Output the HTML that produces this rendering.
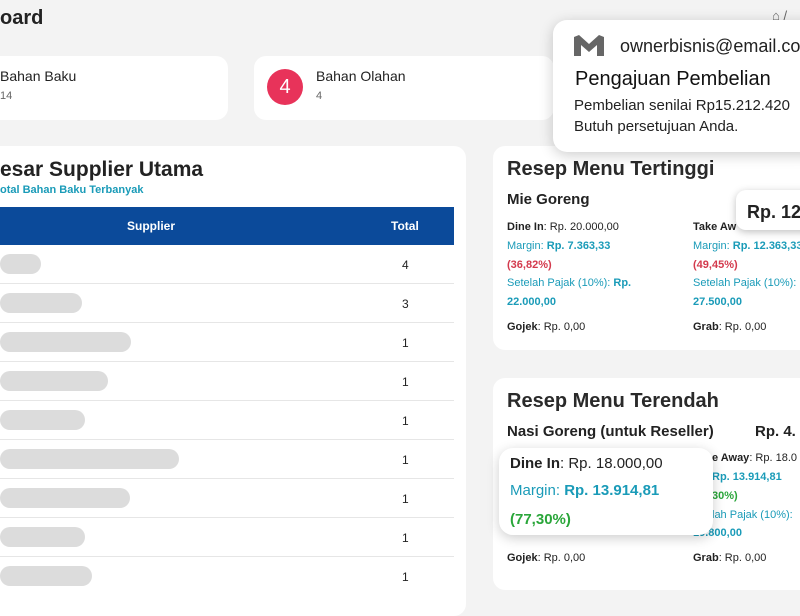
<!DOCTYPE html>
<html><head><meta charset="utf-8"><style>
*{margin:0;padding:0;box-sizing:border-box}
body{width:800px;height:600px;overflow:hidden;background:#f3f3f3;font-family:"Liberation Sans",sans-serif;position:relative;color:#222}
.a{position:absolute;white-space:nowrap}
.card{position:absolute;background:#fff;border-radius:12px}
.b{font-weight:bold}
.t{color:#1a9bb8}
.tb{color:#1a9bb8;font-weight:bold}
.r{color:#d33a4d;font-weight:bold}
.g{color:#2aa63a;font-weight:bold}
.s{font-size:11px}
.pill{position:absolute;left:0;height:20px;background:#dcdcdc;border-radius:10px}
.row{position:absolute;left:0;width:454px;height:39px;border-bottom:1px solid #e6e6e6}
.tot{position:absolute;left:402px;font-size:12px}
</style></head><body>
<div class="a b" style="left:0;top:7px;font-size:20px">oard</div>
<div class="a" style="left:772px;top:8px;font-size:13px;color:#666">⌂ /</div>

<div class="card" style="left:-20px;top:56px;width:248px;height:64px"></div>
<div class="a" style="left:0;top:68px;font-size:14px">Bahan Baku</div>
<div class="a" style="left:0;top:90px;font-size:11px;color:#666">14</div>

<div class="card" style="left:254px;top:56px;width:300px;height:64px"></div>
<div class="a" style="left:267px;top:69px;width:36px;height:36px;border-radius:50%;background:#e8335a;color:#fff;font-size:20px;text-align:center;line-height:36px">4</div>
<div class="a" style="left:316px;top:68px;font-size:14px">Bahan Olahan</div>
<div class="a" style="left:316px;top:90px;font-size:11px;color:#666">4</div>

<div class="card" style="left:-20px;top:146px;width:486px;height:470px"></div>
<div class="a b" style="left:0;top:158px;font-size:21px">esar Supplier Utama</div>
<div class="a b t" style="left:0;top:184px;font-size:11px">otal Bahan Baku Terbanyak</div>
<div class="a" style="left:0;top:207px;width:454px;height:38px;background:#0b4a9a"></div>
<div class="a b" style="left:127px;top:219px;font-size:12px;color:#fff">Supplier</div>
<div class="a b" style="left:391px;top:219px;font-size:12px;color:#fff">Total</div>
<div class="row" style="top:245px"><div class="pill" style="top:9px;width:41px"></div><div class="tot" style="top:13px">4</div></div>
<div class="row" style="top:284px"><div class="pill" style="top:9px;width:82px"></div><div class="tot" style="top:13px">3</div></div>
<div class="row" style="top:323px"><div class="pill" style="top:9px;width:131px"></div><div class="tot" style="top:13px">1</div></div>
<div class="row" style="top:362px"><div class="pill" style="top:9px;width:108px"></div><div class="tot" style="top:13px">1</div></div>
<div class="row" style="top:401px"><div class="pill" style="top:9px;width:85px"></div><div class="tot" style="top:13px">1</div></div>
<div class="row" style="top:440px"><div class="pill" style="top:9px;width:179px"></div><div class="tot" style="top:13px">1</div></div>
<div class="row" style="top:479px"><div class="pill" style="top:9px;width:130px"></div><div class="tot" style="top:13px">1</div></div>
<div class="row" style="top:518px"><div class="pill" style="top:9px;width:85px"></div><div class="tot" style="top:13px">1</div></div>
<div class="row" style="top:557px;border:none"><div class="pill" style="top:9px;width:92px"></div><div class="tot" style="top:13px">1</div></div>

<div class="card" style="left:493px;top:146px;width:330px;height:204px"></div>
<div class="a" style="left:507px;top:158px;font-size:20px;font-weight:bold;color:#2a2a2a">Resep Menu Tertinggi</div>
<div class="a b" style="left:507px;top:191px;font-size:15px">Mie Goreng</div>
<div class="a s" style="left:507px;top:221px"><b>Dine In</b>: Rp. 20.000,00</div>
<div class="a s t" style="left:507px;top:240px">Margin: <b>Rp. 7.363,33</b></div>
<div class="a s r" style="left:507px;top:259px">(36,82%)</div>
<div class="a s t" style="left:507px;top:277px">Setelah Pajak (10%): <b>Rp.</b></div>
<div class="a s tb" style="left:507px;top:296px">22.000,00</div>
<div class="a s" style="left:507px;top:321px"><b>Gojek</b>: Rp. 0,00</div>
<div class="a s" style="left:693px;top:221px"><b>Take Aw</b></div>
<div class="a s t" style="left:693px;top:240px">Margin: <b>Rp. 12.363,33</b></div>
<div class="a s r" style="left:693px;top:259px">(49,45%)</div>
<div class="a s t" style="left:693px;top:277px">Setelah Pajak (10%): <b>Rp.</b></div>
<div class="a s tb" style="left:693px;top:296px">27.500,00</div>
<div class="a s" style="left:693px;top:321px"><b>Grab</b>: Rp. 0,00</div>
<div class="card" style="left:736px;top:190px;width:90px;height:40px;box-shadow:0 2px 8px rgba(0,0,0,.25);border-radius:10px"></div>
<div class="a b" style="left:747px;top:202px;font-size:18px">Rp. 12</div>

<div class="card" style="left:493px;top:378px;width:330px;height:212px"></div>
<div class="a" style="left:507px;top:390px;font-size:20px;font-weight:bold;color:#2a2a2a">Resep Menu Terendah</div>
<div class="a b" style="left:507px;top:423px;font-size:15px">Nasi Goreng (untuk Reseller)</div>
<div class="a b" style="left:755px;top:423px;font-size:15px">Rp. 4.</div>
<div class="a s" style="left:712px;top:452px"><b>e Away</b>: Rp. 18.0</div>
<div class="a s t" style="left:712px;top:471px"><b>Rp. 13.914,81</b></div>
<div class="a s g" style="left:712px;top:490px">30%)</div>
<div class="a s t" style="left:712px;top:509px">lah Pajak (10%):</div>
<div class="a s tb" style="left:693px;top:527px">19.800,00</div>
<div class="a s" style="left:507px;top:552px"><b>Gojek</b>: Rp. 0,00</div>
<div class="a s" style="left:693px;top:552px"><b>Grab</b>: Rp. 0,00</div>
<div class="card" style="left:499px;top:448px;width:214px;height:87px;box-shadow:0 3px 12px rgba(0,0,0,.2);border-radius:14px"></div>
<div class="a" style="left:510px;top:455px;font-size:15px"><b>Dine In</b>: Rp. 18.000,00</div>
<div class="a t" style="left:510px;top:482px;font-size:15px">Margin: <b>Rp. 13.914,81</b></div>
<div class="a g" style="left:510px;top:511px;font-size:15px">(77,30%)</div>

<div class="card" style="left:553px;top:20px;width:270px;height:132px;box-shadow:0 3px 14px rgba(0,0,0,.2);border-radius:14px"></div>
<svg class="a" style="left:574px;top:35px" width="30" height="21" viewBox="0 0 30 21"><path d="M0 2 L5 0 L15 9 L25 0 L30 2 V21 H23 V10 L15 17 L7 10 V21 H0 Z" fill="#666"/></svg>
<div class="a" style="left:620px;top:36px;font-size:18px;color:#222">ownerbisnis@email.com</div>
<div class="a" style="left:575px;top:68px;font-size:20px;color:#111">Pengajuan Pembelian</div>
<div class="a" style="left:574px;top:97px;font-size:15px;color:#222">Pembelian senilai Rp15.212.420</div>
<div class="a" style="left:574px;top:118px;font-size:15px;color:#222">Butuh persetujuan Anda.</div>
</body></html>
